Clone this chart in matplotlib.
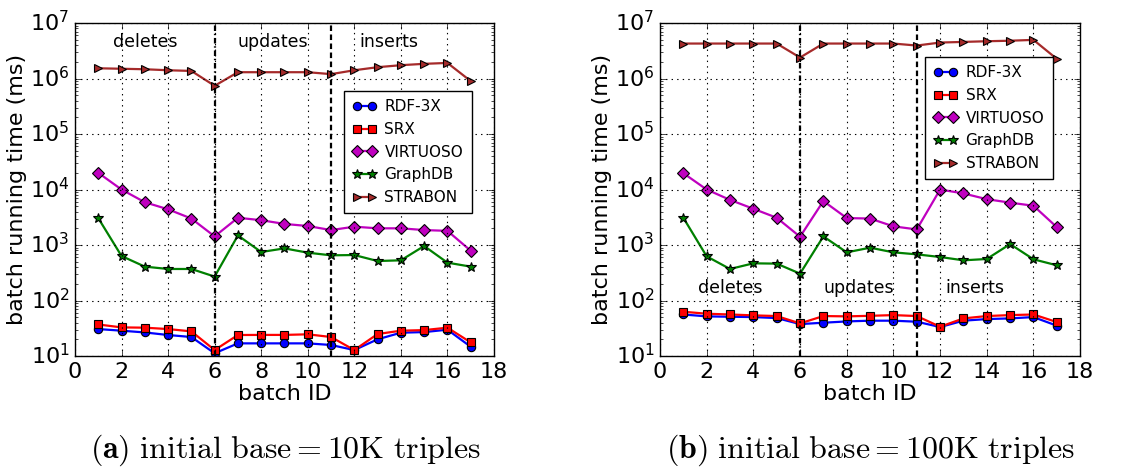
import matplotlib
matplotlib.use("Agg")
import matplotlib.pyplot as plt

batch_ids = list(range(1, 18))
series_names = ["RDF-3X", "SRX", "VIRTUOSO", "GraphDB", "STRABON"]

# (a) initial base = 10K triples
rdf_10k = [30.6, 28.6, 26.6, 23.9, 22, 11.2, 16.9, 16.9, 16.9, 16.9, 15.8, 12.8, 20, 26.3, 27, 29.8, 14.7]
srx_10k = [37, 32.8, 32.4, 30.6, 27.8, 12.8, 23.9, 24, 24, 24.6, 22, 12.8, 24.9, 28.6, 29.3, 32.4, 17.6]
virt_10k = [2.0e4, 1.0e4, 5.9e3, 4.4e3, 3.0e3, 1.43e3, 3.1e3, 2.8e3, 2.4e3, 2.2e3, 1.86e3, 2.14e3,
            2.0e3, 2.0e3, 1.86e3, 1.8e3, 790]
gdb_10k = [3.06e3, 634, 408, 370, 370, 270, 1.49e3, 748, 870, 728, 652, 660, 515, 530, 960, 481, 408]
strabon_10k = [1.53e6, 1.5e6, 1.47e6, 1.41e6, 1.37e6, 7.4e5, 1.3e6, 1.3e6, 1.3e6, 1.3e6, 1.2e6,
               1.41e6, 1.6e6, 1.74e6, 1.84e6, 1.91e6, 9.0e5]

# (b) initial base = 100K triples
rdf_100k = [56, 51.8, 51, 50.3, 48.3, 37.6, 39.8, 42, 43.3, 43.3, 41.5, 33.3, 43.3, 46.3, 47.6, 50.3, 35.2]
srx_100k = [62.8, 57.8, 56, 54, 52.5, 38.7, 52.5, 51.8, 53, 54.6, 52.5, 33.7, 47.6, 52.5, 54.6, 56, 40.9]
virt_100k = [1.97e4, 1.0e4, 6.5e3, 4.5e3, 3.1e3, 1.41e3, 6.2e3, 3.06e3, 3.0e3, 2.17e3, 1.91e3, 1.0e4,
             8.5e3, 6.7e3, 5.8e3, 5.1e3, 2.1e3]
gdb_100k = [3.1e3, 625, 370, 468, 462, 305, 1.43e3, 738, 895, 738, 679, 608, 530, 560, 1.04e3, 553, 431]
strabon_100k = [4.27e6, 4.27e6, 4.27e6, 4.27e6, 4.27e6, 2.39e6, 4.27e6, 4.27e6, 4.27e6, 4.27e6, 3.93e6,
                4.45e6, 4.57e6, 4.7e6, 4.8e6, 4.97e6, 2.26e6]

phase_labels = ["deletes", "updates", "inserts"]
phase_x = [3.0, 8.5, 13.5]
captions = [r"$\mathbf{(a)}\ \mathrm{initial\ base} = \mathrm{10K\ triples}$",
            r"$\mathbf{(b)}\ \mathrm{initial\ base} = \mathrm{100K\ triples}$"]

plt.style.use("classic")
plt.rcParams["figure.facecolor"] = "white"
plt.rcParams["mathtext.fontset"] = "dejavusans"
plt.rcParams["font.family"] = "DejaVu Sans"

colors = ["b", "r", "m", "g", "#a52a2a"]
markers = ["o", "s", "D", "*", ">"]

fig = plt.figure(figsize=(11.48, 4.75), dpi=100)
ax_a = fig.add_axes([0.0653, 0.2505, 0.365, 0.701])
ax_b = fig.add_axes([0.5749, 0.2505, 0.366, 0.701])

panels = [
    (ax_a, [rdf_10k, srx_10k, virt_10k, gdb_10k, strabon_10k], 4.5e6, (0.642, 0.796)),
    (ax_b, [rdf_100k, srx_100k, virt_100k, gdb_100k, strabon_100k], 165, (0.631, 0.898)),
]

for ax, data, label_y, leg_pos in panels:
    for name, vals, c, m in zip(series_names, data, colors, markers):
        ms = 7 if m == "*" else 6
        ax.plot(batch_ids, vals, color=c, marker=m, markersize=ms, linewidth=1.6,
                markeredgecolor="k", markeredgewidth=0.8, label=name)
    ax.axvline(6, color="k", linewidth=1.6, dashes=(4, 2, 1, 2))
    ax.axvline(11, color="k", linewidth=1.6, dashes=(4, 2.5))
    for lbl, x in zip(phase_labels, phase_x):
        ax.text(x, label_y, lbl, ha="center", va="center", fontsize=12.5)
    ax.set_yscale("log")
    ax.set_ylim(10, 1e7)
    ax.set_xlim(0, 18)
    ax.set_xticks(range(0, 19, 2))
    ax.grid(True, color="k", linestyle=":", linewidth=0.8)
    ax.tick_params(labelsize=16, which="major")
    ax.set_xlabel("batch ID", fontsize=16, labelpad=2)
    ax.set_ylabel("batch running time (ms)", fontsize=16, labelpad=2)
    ax.legend(loc="upper left", bbox_to_anchor=leg_pos, fontsize=11, numpoints=2,
              borderaxespad=0, handlelength=1.6, labelspacing=0.5, borderpad=0.55,
              handletextpad=0.5)

fig.text(0.249, 0.052, captions[0], ha="center", va="center", fontsize=23, math_fontfamily="cm")
fig.text(0.758, 0.052, captions[1], ha="center", va="center", fontsize=23, math_fontfamily="cm")

fig.savefig("out.png", dpi=100)
